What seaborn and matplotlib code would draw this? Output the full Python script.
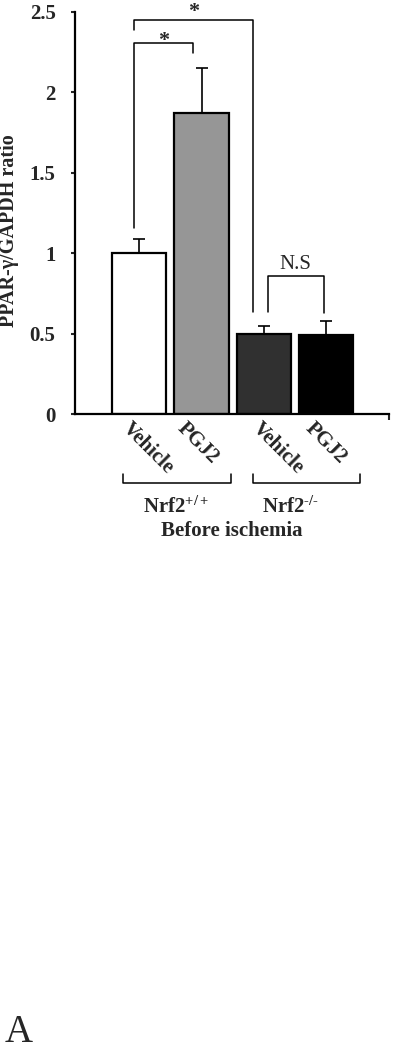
import numpy as np
import pandas as pd
import matplotlib
matplotlib.use("Agg")
import matplotlib.pyplot as plt
import seaborn as sns

# ---- data ----
bar_ids = ["wt_vehicle", "wt_pgj2", "ko_vehicle", "ko_pgj2"]
bar_labels = ["Vehicle", "PGJ2", "Vehicle", "PGJ2"]
ratio = [1.00, 1.87, 0.50, 0.49]
sem = [0.09, 0.28, 0.05, 0.09]
bar_colors = ["#ffffff", "#969696", "#303030", "#000000"]
ytick_vals = [0, 0.5, 1, 1.5, 2, 2.5]
ytick_text = ["0", "0.5", "1", "1.5", "2", "2.5"]
group_names = [r"Nrf2$^{+/+}$", "Nrf2$^{\u2010/\u2010}$"]

df = pd.DataFrame({"id": bar_ids, "ratio": ratio})

sns.set_style("white")
plt.rcParams["font.family"] = ["Liberation Serif", "DejaVu Serif"]
plt.rcParams["font.weight"] = "bold"
plt.rcParams["mathtext.fontset"] = "custom"
plt.rcParams["mathtext.rm"] = "Liberation Serif:bold"
plt.rcParams["mathtext.bf"] = "Liberation Serif:bold"
plt.rcParams["mathtext.it"] = "Liberation Serif:bold"

fig = plt.figure(figsize=(3.93, 10.5), dpi=100)
ax = fig.add_axes([0.191, 0.6057, 0.799, 0.3829])

sns.barplot(data=df, x="id", y="ratio", hue="id", palette=bar_colors,
            width=0.87, edgecolor="black", linewidth=1.6, errorbar=None,
            legend=False, ax=ax)
ax.errorbar(range(len(ratio)), ratio, yerr=[np.zeros(len(sem)), sem],
            fmt="none", ecolor="black", elinewidth=1.2, capsize=4, capthick=1.2)

ax.set_xlim(-1.03, 4.01)
ax.set_ylim(0, 2.5)
ax.set_yticks(ytick_vals)
ax.set_yticklabels(ytick_text, fontsize=15, fontweight="bold")
ax.set_xticks(range(len(bar_labels)))
ax.set_xticklabels([])

# slanted category labels, hand placed in the original so each is nudged a bit
nudge = [-0.22, -0.34, -0.14, -0.29]
for i, (lab, dx) in enumerate(zip(bar_labels, nudge)):
    ax.text(i + dx, -0.07, lab, fontsize=15, fontweight="bold", rotation=-45,
            rotation_mode="anchor", ha="left", va="center", clip_on=False)

ax.tick_params(axis="x", which="major", length=0)
ax.tick_params(axis="y", direction="out", length=3, width=1.5, pad=11, left=True)
ax.set_xticks([4.01], minor=True)
ax.tick_params(axis="x", which="minor", direction="out", length=4, width=1.5, bottom=True)

for s in ["top", "right"]:
    ax.spines[s].set_visible(False)
for s in ["left", "bottom"]:
    ax.spines[s].set_linewidth(1.6)
    ax.spines[s].set_color("black")

ax.set_xlabel("")
ax.set_ylabel("PPAR-\u03b3/GAPDH ratio", fontsize=14.5, fontweight="bold")
ax.yaxis.set_label_coords(-0.178, 0.455)

# significance brackets
lw = 1.1
kw = dict(color="black", lw=lw, clip_on=False)
ax.plot([-0.08, -0.08, 1.83, 1.83], [2.39, 2.45, 2.45, 0.634], **kw)
ax.plot([-0.08, -0.08, 0.87, 0.87], [1.157, 2.307, 2.307, 2.245], **kw)
ax.plot([2.07, 2.07, 2.97, 2.97], [0.634, 0.858, 0.858, 0.628], **kw)
star = dict(ha="center", va="baseline", fontsize=16, fontweight="bold", clip_on=False)
ax.text(0.87, 2.47, "*", **star)
ax.text(0.39, 2.29, "*", **star)
ax.text(2.5, 0.9, "N.S", ha="center", va="baseline", fontsize=15,
        fontweight="normal", clip_on=False)

# group brackets below the axis
ax.plot([-0.26, -0.26, 1.48, 1.48], [-0.373, -0.429, -0.429, -0.373], **kw)
ax.plot([1.83, 1.83, 3.55, 3.55], [-0.373, -0.429, -0.429, -0.373], **kw)
ax.text(0.59, -0.616, group_names[0], ha="center", va="baseline", fontsize=15, fontweight="bold")
ax.text(2.43, -0.616, group_names[1], ha="center", va="baseline", fontsize=15, fontweight="bold")
ax.text(1.49, -0.759, "Before ischemia", ha="center", va="baseline", fontsize=15, fontweight="bold")

fig.text(0.012, 0.008, "A", ha="left", va="baseline", fontsize=28, fontweight="normal")

fig.savefig("out.png", dpi=100)
